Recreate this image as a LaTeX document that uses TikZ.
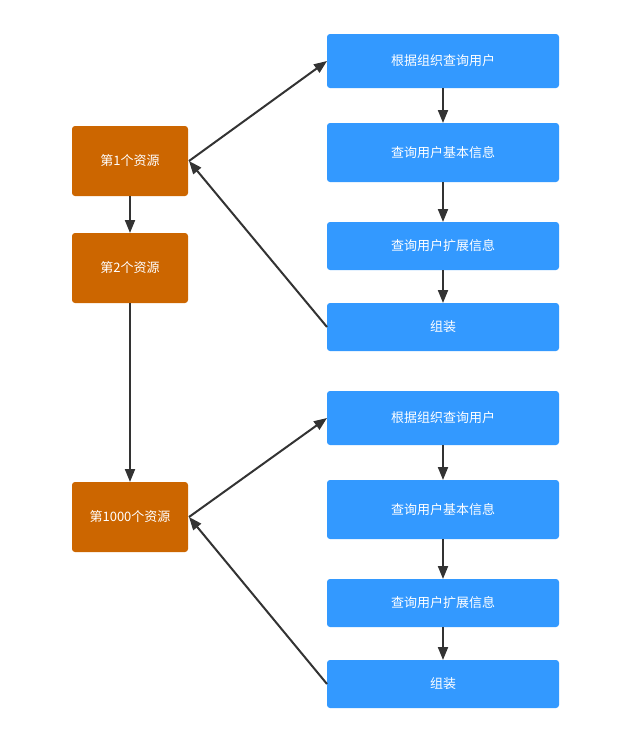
\documentclass[tikz,border=0pt]{standalone}
\usepackage{fontspec}
\newfontfamily\cjk{Noto Sans CJK SC}
\usetikzlibrary{arrows.meta}
\definecolor{orangebox}{HTML}{CC6600}
\definecolor{bluebox}{HTML}{3399FF}
\definecolor{lineclr}{HTML}{333333}
\begin{document}
\begin{tikzpicture}[x=1pt,y=-1pt,
  box/.style={rounded corners=3pt, draw=none, text=white, font=\cjk\fontsize{13}{15}\selectfont},
  ob/.style={box, fill=orangebox},
  bb/.style={box, fill=bluebox},
  conn/.style={draw=lineclr, line width=2pt, -{Triangle[length=13pt,width=10pt]}}]
\useasboundingbox (0,0) rectangle (628,737);
% orange
\path[ob] (72,126) rectangle (188,196) node[midway] (r1) {第1个资源};
\coordinate (r1n) at (130,126); \coordinate (r1s) at (130,196); \coordinate (r1e) at (188,161);
\path[ob] (72,233) rectangle (188,303) node[midway] (r2) {第2个资源};
\coordinate (r2n) at (130,233); \coordinate (r2s) at (130,303);
\path[ob] (72,482) rectangle (188,552) node[midway] (r3) {第1000个资源};
\coordinate (r3n) at (130,482); \coordinate (r3e) at (188,517);
% blue top
\path[bb] (327,34) rectangle (559,88) node[midway] (a1) {根据组织查询用户};
\path[bb] (327,123) rectangle (559,182) node[midway] (a2) {查询用户基本信息};
\path[bb] (327,222) rectangle (559,270) node[midway] (a3) {查询用户扩展信息};
\path[bb] (327,303) rectangle (559,351) node[midway] (a4) {组装};
% blue bottom
\path[bb] (327,391) rectangle (559,445) node[midway] (b1) {根据组织查询用户};
\path[bb] (327,480) rectangle (559,539) node[midway] (b2) {查询用户基本信息};
\path[bb] (327,579) rectangle (559,627) node[midway] (b3) {查询用户扩展信息};
\path[bb] (327,660) rectangle (559,708) node[midway] (b4) {组装};
% coordinates for connectors
\coordinate (a1w) at (327,61); \coordinate (a1s) at (443,88);
\coordinate (a2n) at (443,123); \coordinate (a2s) at (443,182);
\coordinate (a3n) at (443,222); \coordinate (a3s) at (443,270);
\coordinate (a4n) at (443,303); \coordinate (a4w) at (327,327);
\coordinate (b1w) at (327,418); \coordinate (b1s) at (443,445);
\coordinate (b2n) at (443,480); \coordinate (b2s) at (443,539);
\coordinate (b3n) at (443,579); \coordinate (b3s) at (443,627);
\coordinate (b4n) at (443,660); \coordinate (b4w) at (327,684);
\coordinate (r1ee) at (189,161); \coordinate (r3ee) at (189,517);
% connectors
\draw[conn] (r1s) -- (r2n);
\draw[conn] (r2s) -- (r3n);
\draw[conn] (r1ee) -- (a1w);
\draw[conn] (a1s) -- (a2n);
\draw[conn] (a2s) -- (a3n);
\draw[conn] (a3s) -- (a4n);
\draw[conn] (a4w) -- (r1ee);
\draw[conn] (r3ee) -- (b1w);
\draw[conn] (b1s) -- (b2n);
\draw[conn] (b2s) -- (b3n);
\draw[conn] (b3s) -- (b4n);
\draw[conn] (b4w) -- (r3ee);
\end{tikzpicture}
\end{document}
